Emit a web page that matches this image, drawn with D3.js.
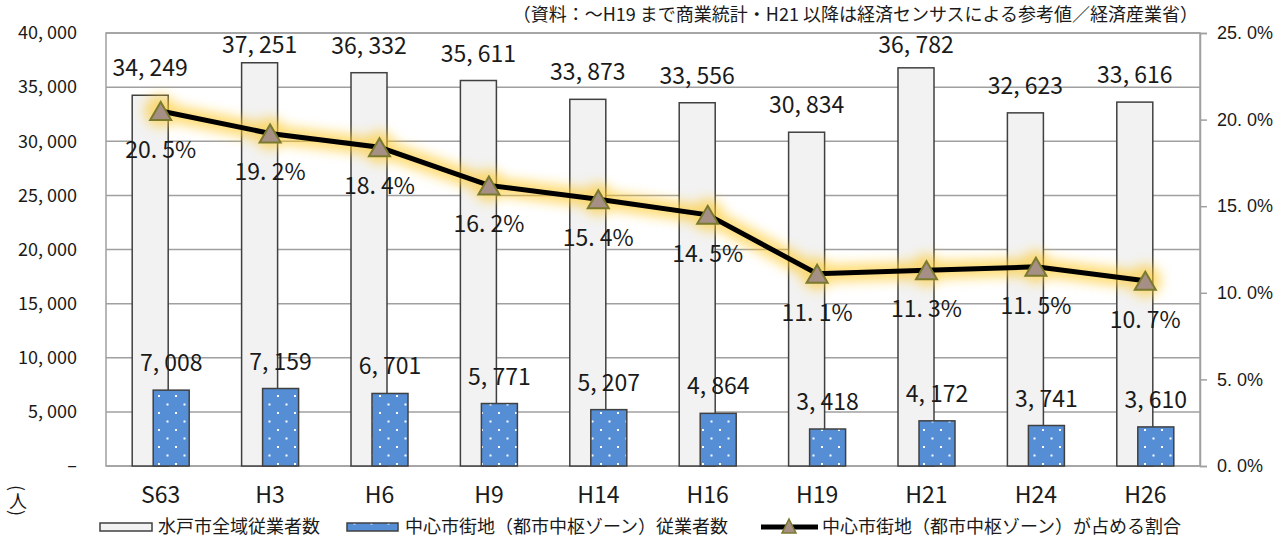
<!DOCTYPE html>
<html><head><meta charset="utf-8">
<script src="https://cdn.jsdelivr.net/npm/d3@7"></script>
<style>
html,body{margin:0;padding:0;background:#fff;}
svg{display:block;font-family:"Noto Sans CJK JP","Noto Sans",sans-serif;}
</style></head>
<body>
<svg id="chart" width="1285" height="540"></svg>
<script>
const categories = ["S63","H3","H6","H9","H14","H16","H19","H21","H24","H26"];
const totalWorkers = [34249,37251,36332,35611,33873,33556,30834,36782,32623,33616];
const centerWorkers = [7008,7159,6701,5771,5207,4864,3418,4172,3741,3610];
const centerShare = [20.5,19.2,18.4,16.2,15.4,14.5,11.1,11.3,11.5,10.7];
const leftTicks = [0,5000,10000,15000,20000,25000,30000,35000,40000];
const rightTicks = [0,5,10,15,20,25];
const seriesNames = ["水戸市全域従業者数","中心市街地（都市中枢ゾーン）従業者数","中心市街地（都市中枢ゾーン）が占める割合"];
const sourceNote = "（資料：～H19 まで商業統計・H21 以降は経済センサスによる参考値／経済産業省）";
const unitLabel = ["(", "人", ")"];

const svg = d3.select("#chart");
const L = 106, R = 1200, T = 33, B = 466;
const x = d3.scaleBand().domain(categories).range([L, R]).paddingInner(0).paddingOuter(0);
const yL = d3.scaleLinear().domain([0, 40000]).range([B, T]);
const yR = d3.scaleLinear().domain([0, 25]).range([B, T]);
const cx = c => x(c) + x.bandwidth() / 2;

const fmtNum = d => d === 0 ? "–" : d3.format(",")(d).replace(",", ", ");
const fmtPct = d => d3.format(".1f")(d).replace(".", ". ") + "%";

const defs = svg.append("defs");
const pat = defs.append("pattern").attr("id","dots").attr("patternUnits","userSpaceOnUse")
  .attr("width",17).attr("height",17).attr("x",3).attr("y",2);
pat.append("rect").attr("width",17).attr("height",17).attr("fill","#558ed5");
pat.append("rect").attr("x",2).attr("y",2).attr("width",2).attr("height",2).attr("fill","#fff");
pat.append("rect").attr("x",10.5).attr("y",10.5).attr("width",2).attr("height",2).attr("fill","#fff");
const filt = defs.append("filter").attr("id","glow").attr("x","-10%").attr("y","-60%").attr("width","120%").attr("height","220%");
filt.append("feGaussianBlur").attr("stdDeviation",6);

const textColor = "#1a1a1a";
const gridColor = "#a0a0a0";

// gridlines
svg.append("g").selectAll("line").data(leftTicks).join("line")
  .attr("x1", L).attr("x2", R).attr("y1", d => yL(d)).attr("y2", d => yL(d))
  .attr("stroke", gridColor).attr("stroke-width", 1.5);
// plot border
svg.append("rect").attr("x", L).attr("y", T).attr("width", R - L).attr("height", B - T)
  .attr("fill","none").attr("stroke", gridColor).attr("stroke-width", 1.5);

// left axis labels
svg.append("g").selectAll("text").data(leftTicks).join("text")
  .attr("x", 77).attr("y", d => yL(d)).attr("dy","0.35em").attr("text-anchor","end")
  .attr("font-size", 18).attr("fill", textColor).text(fmtNum);

// right axis
const gR = svg.append("g").attr("transform", `translate(${R},0)`)
  .call(d3.axisRight(yR).tickValues(rightTicks).tickSize(7).tickPadding(10).tickFormat(fmtPct));
gR.select(".domain").attr("stroke", gridColor).attr("stroke-width", 1.5);
gR.selectAll(".tick line").attr("stroke", gridColor).attr("stroke-width", 1.5);
gR.selectAll(".tick text").attr("font-size", 18).attr("fill", textColor).attr("font-family", null);

// x axis labels
svg.append("g").selectAll("text").data(categories).join("text")
  .attr("x", d => cx(d)).attr("y", 503).attr("text-anchor","middle")
  .attr("font-size", 23).attr("fill", textColor).text(d => d);

const bw = 36, off = 10.5;
// total bars
svg.append("g").selectAll("rect").data(totalWorkers).join("rect")
  .attr("x", (d,i) => cx(categories[i]) - off - bw/2).attr("width", bw)
  .attr("y", d => yL(d)).attr("height", d => B - yL(d))
  .attr("fill","#f2f2f2").attr("stroke","#404040").attr("stroke-width",1.5);
// center bars
svg.append("g").selectAll("rect").data(centerWorkers).join("rect")
  .attr("x", (d,i) => cx(categories[i]) + off - bw/2).attr("width", bw)
  .attr("y", d => yL(d)).attr("height", d => B - yL(d))
  .attr("fill","url(#dots)").attr("stroke","#404040").attr("stroke-width",1.5);

// bar labels
svg.append("g").selectAll("text").data(totalWorkers).join("text")
  .attr("x", (d,i) => cx(categories[i]) - off).attr("y", d => Math.max(53, yL(d) - 19))
  .attr("text-anchor","middle").attr("font-size", 23).attr("fill", textColor).text(fmtNum);
svg.append("g").selectAll("text").data(centerWorkers).join("text")
  .attr("x", (d,i) => cx(categories[i]) + off).attr("y", d => yL(d) - 19)
  .attr("text-anchor","middle").attr("font-size", 23).attr("fill", textColor).text(fmtNum);

// line series
const pts = centerShare.map((v,i) => [cx(categories[i]), yR(v)]);
const line = d3.line();
const tri = "M0,-9L10.5,9L-10.5,9Z";
const glow = svg.append("g").attr("filter","url(#glow)").attr("opacity",0.6);
glow.append("path").attr("d", line(pts)).attr("fill","none").attr("stroke","#ffc61a").attr("stroke-width",18).attr("stroke-linejoin","round");
glow.selectAll("circle").data(pts).join("circle").attr("cx", d => d[0]).attr("cy", d => d[1]).attr("r", 16).attr("fill","#ffc61a");
svg.append("path").attr("d", line(pts)).attr("fill","none").attr("stroke","#000").attr("stroke-width",5);
svg.append("g").selectAll("path").data(pts).join("path")
  .attr("transform", d => `translate(${d[0]},${d[1]})`).attr("d", tri)
  .attr("fill","#a68f84").attr("stroke","#7a7a2e").attr("stroke-width",2);

// percent labels
svg.append("g").selectAll("text").data(centerShare).join("text")
  .attr("x", (d,i) => cx(categories[i])).attr("y", d => yR(d) + 47)
  .attr("text-anchor","middle").attr("font-size", 23).attr("fill", textColor).text(fmtPct);

// source note
svg.append("text").attr("x", 1198).attr("y", 21).attr("text-anchor","end")
  .attr("font-size", 18).attr("fill", textColor).text(sourceNote);

// unit label (vertical)
const ug = svg.append("g").attr("font-size", 18).attr("fill", textColor).attr("text-anchor","middle");
ug.append("text").attr("transform","translate(18,488) rotate(90)").attr("dominant-baseline","central").text(unitLabel[0]);
ug.append("text").attr("x",18).attr("y",500).attr("dominant-baseline","central").text(unitLabel[1]);
ug.append("text").attr("transform","translate(18,513) rotate(90)").attr("dominant-baseline","central").text(unitLabel[2]);

// legend
const lg = svg.append("g");
const ly = 527;
lg.append("rect").attr("x",100).attr("y",ly-4).attr("width",52).attr("height",8)
  .attr("fill","#f2f2f2").attr("stroke","#404040").attr("stroke-width",1.5);
lg.append("text").attr("x",158).attr("y",ly).attr("dy","0.36em").attr("font-size",18).attr("fill",textColor).text(seriesNames[0]);
lg.append("rect").attr("x",347).attr("y",ly-4).attr("width",51).attr("height",8)
  .attr("fill","url(#dots)").attr("stroke","#404040").attr("stroke-width",1.5);
lg.append("text").attr("x",405).attr("y",ly).attr("dy","0.36em").attr("font-size",18).attr("fill",textColor).text(seriesNames[1]);
lg.append("line").attr("x1",761).attr("x2",818).attr("y1",ly).attr("y2",ly).attr("stroke","#000").attr("stroke-width",5);
lg.append("path").attr("transform",`translate(789,${ly-1})`).attr("d","M0,-7L7,7L-7,7Z")
  .attr("fill","#a68f84").attr("stroke","#7a7a2e").attr("stroke-width",1.5);
lg.append("text").attr("x",822).attr("y",ly).attr("dy","0.36em").attr("font-size",18).attr("fill",textColor).text(seriesNames[2]);
</script>
</body></html>
